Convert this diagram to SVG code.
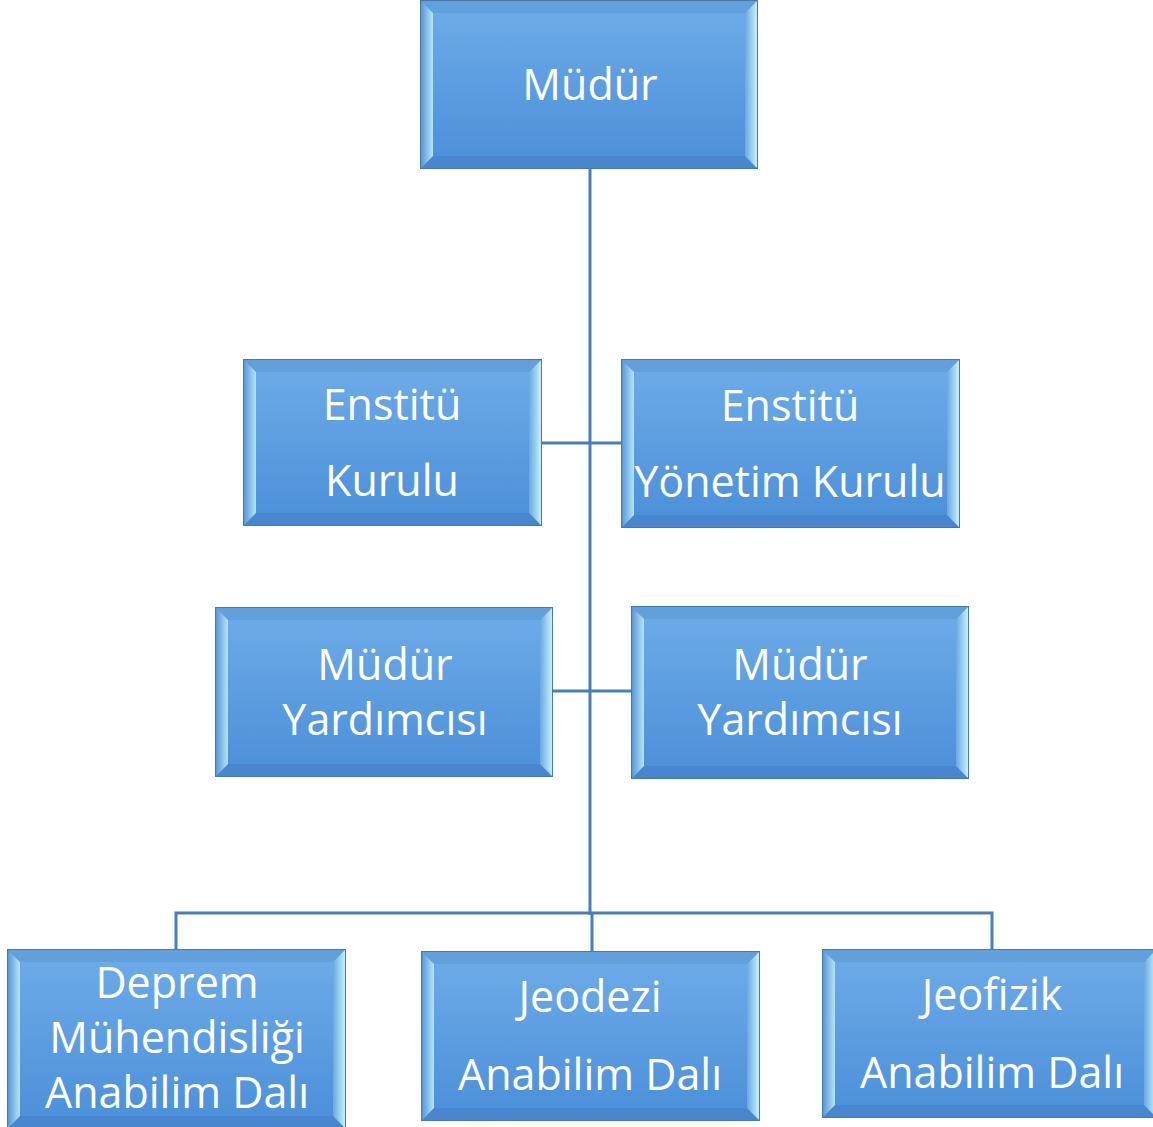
<svg xmlns="http://www.w3.org/2000/svg" width="1153" height="1127" viewBox="0 0 1153 1127">
<defs>
<linearGradient id="face" x1="0" y1="0" x2="0" y2="1"><stop offset="0" stop-color="#6caae7"/><stop offset="1" stop-color="#4d91da"/></linearGradient>
<linearGradient id="bl" x1="0" y1="0" x2="1" y2="0"><stop offset="0" stop-color="#5a97d8"/><stop offset="1" stop-color="#b4e6f8"/></linearGradient>
<linearGradient id="br" x1="0" y1="0" x2="1" y2="0"><stop offset="0" stop-color="#6aa8e2"/><stop offset="1" stop-color="#c4f0fb"/></linearGradient>
<style>
.o{fill:#4f8ed4;stroke:#4a78a6;stroke-width:2}
.t{fill:#62a0dc}
.b{fill:#4887cf}
.l{fill:url(#bl)}
.r{fill:url(#br)}
.f{fill:url(#face)}
text{font-family:"Open Sans","Liberation Sans",sans-serif;font-size:43px;fill:#ffffff;text-anchor:middle}
.c{stroke:#4a7ebb;stroke-width:3;fill:none}
</style>
</defs>
<g id="connectors">
<path class="c" d="M590 168V915M541 443H622M552 691H632M176 950V913H992V950M592 913V952"/>
</g>
<g id="n-mudur">
<rect class="o" x="421" y="1" width="336" height="167"/>
<polygon class="t" points="421,1 757,1 745,13 433,13"/>
<polygon class="b" points="421,168 757,168 745,156 433,156"/>
<polygon class="l" points="421,1 433,13 433,156 421,168"/>
<polygon class="r" points="757,1 745,13 745,156 757,168"/>
<rect class="f" x="433" y="13" width="312" height="143"/>
<text x="590" y="100">Müdür</text>
</g>
<g id="n-enstitu-kurulu">
<rect class="o" x="244" y="360" width="297" height="165"/>
<polygon class="t" points="244,360 541,360 529,372 256,372"/>
<polygon class="b" points="244,525 541,525 529,513 256,513"/>
<polygon class="l" points="244,360 256,372 256,513 244,525"/>
<polygon class="r" points="541,360 529,372 529,513 541,525"/>
<rect class="f" x="256" y="372" width="273" height="141"/>
<text x="392" y="420">Enstitü</text>
<text x="392" y="496">Kurulu</text>
</g>
<g id="n-enstitu-yonetim">
<rect class="o" x="622" y="360" width="337" height="167"/>
<polygon class="t" points="622,360 959,360 947,372 634,372"/>
<polygon class="b" points="622,527 959,527 947,515 634,515"/>
<polygon class="l" points="622,360 634,372 634,515 622,527"/>
<polygon class="r" points="959,360 947,372 947,515 959,527"/>
<rect class="f" x="634" y="372" width="313" height="143"/>
<text x="790" y="421">Enstitü</text>
<text x="790" y="497">Yönetim Kurulu</text>
</g>
<g id="n-yardimci-1">
<rect class="o" x="216" y="608" width="336" height="168"/>
<polygon class="t" points="216,608 552,608 540,620 228,620"/>
<polygon class="b" points="216,776 552,776 540,764 228,764"/>
<polygon class="l" points="216,608 228,620 228,764 216,776"/>
<polygon class="r" points="552,608 540,620 540,764 552,776"/>
<rect class="f" x="228" y="620" width="312" height="144"/>
<text x="385" y="680">Müdür</text>
<text x="385" y="735">Yardımcısı</text>
</g>
<g id="n-yardimci-2">
<rect class="o" x="632" y="607" width="336" height="171"/>
<polygon class="t" points="632,607 968,607 956,619 644,619"/>
<polygon class="b" points="632,778 968,778 956,766 644,766"/>
<polygon class="l" points="632,607 644,619 644,766 632,778"/>
<polygon class="r" points="968,607 956,619 956,766 968,778"/>
<rect class="f" x="644" y="619" width="312" height="147"/>
<text x="800" y="680">Müdür</text>
<text x="800" y="735">Yardımcısı</text>
</g>
<g id="n-deprem">
<rect class="o" x="8" y="950" width="337" height="178"/>
<polygon class="t" points="8,950 345,950 333,962 20,962"/>
<polygon class="b" points="8,1128 345,1128 333,1116 20,1116"/>
<polygon class="l" points="8,950 20,962 20,1116 8,1128"/>
<polygon class="r" points="345,950 333,962 333,1116 345,1128"/>
<rect class="f" x="20" y="962" width="313" height="154"/>
<text x="177" y="998">Deprem</text>
<text x="177" y="1053">Mühendisliği</text>
<text x="177" y="1108">Anabilim Dalı</text>
</g>
<g id="n-jeodezi">
<rect class="o" x="422" y="952" width="337" height="168"/>
<polygon class="t" points="422,952 759,952 747,964 434,964"/>
<polygon class="b" points="422,1120 759,1120 747,1108 434,1108"/>
<polygon class="l" points="422,952 434,964 434,1108 422,1120"/>
<polygon class="r" points="759,952 747,964 747,1108 759,1120"/>
<rect class="f" x="434" y="964" width="313" height="144"/>
<text x="590" y="1012">Jeodezi</text>
<text x="590" y="1090">Anabilim Dalı</text>
</g>
<g id="n-jeofizik">
<rect class="o" x="823" y="950" width="333" height="167"/>
<polygon class="t" points="823,950 1156,950 1144,962 835,962"/>
<polygon class="b" points="823,1117 1156,1117 1144,1105 835,1105"/>
<polygon class="l" points="823,950 835,962 835,1105 823,1117"/>
<polygon class="r" points="1156,950 1144,962 1144,1105 1156,1117"/>
<rect class="f" x="835" y="962" width="309" height="143"/>
<text x="992" y="1010">Jeofizik</text>
<text x="992" y="1088">Anabilim Dalı</text>
</g>
</svg>
